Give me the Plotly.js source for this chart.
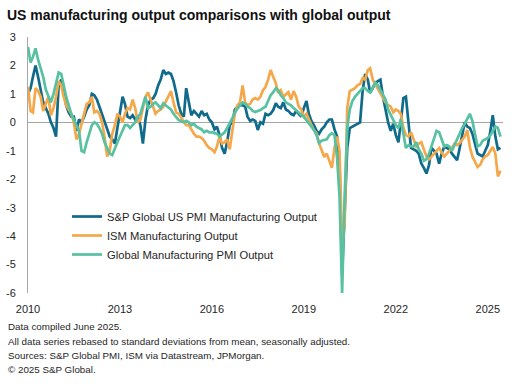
<!DOCTYPE html>
<html><head><meta charset="utf-8">
<script src="https://cdn.plot.ly/plotly-3.0.1.min.js"></script>
<style>html,body{margin:0;padding:0;background:#fff;}#chart{width:526px;height:392px;}</style>
</head><body><div id="chart"></div>
<script>
// Monthly series, Jan 2010 .. Jun 2025 (standard deviations from mean)
const startYear = 2010;
const spgUS = [
  1.0, 1.2, 1.6, 2.0, 1.6, 1.1, 0.7, 0.5, 0.3, 0.0, -0.2, -0.5,
  1.3, 1.5, 1.0, 0.6, 0.35, 0.2, 0.2, -0.3, 0.1, 0.0, 0.2, 0.45,
  0.6, 1.0, 0.95, 0.8, 0.55, 0.3, 0.05, -0.2, -0.5, -0.6, -0.75, -0.2,
  0.4, 0.9, 0.65, 0.2, 0.15, 0.25, 0.1, 0.2, -0.1, -0.75, 0.1, 0.6,
  0.8, 0.85, 1.0, 1.3, 1.5, 1.84, 1.7, 1.75, 1.7, 1.45, 1.05, 0.6,
  0.3, 0.2, 1.2, 0.7, 0.25, 0.4, 0.3, 0.2, 0.4, 0.25, 0.3, 0.1,
  0.0, -0.25, -0.15, -0.45, -0.9, -1.1, -0.7, -0.1, 0.0, 0.45, 0.55, 0.6,
  0.6, 0.55, 0.2, 0.05, 0.1, 0.05, -0.27, 0.0, -0.05, 0.3, 0.25, 0.3,
  0.43, 0.67, 0.55, 0.5, 0.7, 0.45, 0.4, 0.3, 0.25, 0.4, 0.3, 0.2,
  0.5, 0.75, 0.3, 0.05, -0.1, -0.3, -0.4, -0.25, -0.15, 0.0, 0.1, 0.1,
  -0.25, -0.5, -1.5, -5.3, -3.2, -0.9, -0.2, -0.15, -0.1, -0.05, 0.0, 1.1,
  1.7, 1.5, 1.05, 1.2, 1.38, 1.45, 1.5, 0.9, 0.4, 0.0, -0.3, -0.05,
  -0.45, -0.7, 0.0, 0.85, 0.9, 0.1, -0.9, -0.95, -1.0, -1.1, -1.45, -1.6,
  -1.8, -1.5, -0.9, -1.0, -1.1, -1.45, -1.1, -0.85, -0.9, -0.95, -1.1, -1.2,
  -1.33, -0.9, -0.5, 0.0, -0.15, -0.2, -0.4, -0.8, -1.1, -1.15, -1.2, -1.0,
  -0.8, -0.3, 0.25, -0.5, -0.95, -0.9
];
const ismOutput = [
  1.25, 0.4, 0.35, 1.2, 1.1, 0.9, 0.4, 0.65, 0.9, 0.25, 0.5, 0.9,
  1.45, 1.3, 0.9, 0.6, 0.45, 0.3, 0.0, -0.6, -0.4, 0.0, 0.3, 0.65,
  0.7, 0.9, 0.35, 0.4, 0.3, 0.0, -0.5, -1.2, -1.0, -0.4, -0.1, 0.3,
  0.2, 0.0, 0.3, 0.5, 0.45, 0.8, 0.5, 0.0, 0.1, 0.5, 0.9, 1.05,
  0.8, 0.55, 0.3, 0.4, 0.45, 0.55, 0.75, 0.9, 1.1, 0.7, 0.35, 0.3,
  0.15, 0.0, -0.1, -0.1, -0.25, -0.4, -0.5, -0.5, -0.55, -0.65, -0.8, -0.9,
  -0.95, -1.05, -0.85, -0.5, -0.75, -0.7, -0.6, -0.95, -0.3, 0.3, 0.6, 0.7,
  1.3, 0.7, 0.6, 0.65, 0.8, 0.85, 0.8, 0.9, 1.13, 1.24, 1.5, 1.84,
  1.6, 1.38, 1.03, 1.13, 0.9, 1.0, 1.06, 0.8, 1.1, 0.9, 0.55, 0.45,
  0.2, 0.3, 0.08, -0.1, -0.27, -0.38, -0.73, -1.0, -1.22, -1.1, -1.38, -1.6,
  -0.9, -0.5, -1.0, -4.3, -3.6, 0.5, 1.1, 1.15, 1.2, 1.3, 1.35, 1.55,
  1.5, 1.84, 1.9, 1.5, 1.35, 1.2, 1.0, 0.85, 0.7, 0.6, 0.55, 0.35,
  0.45, 0.4, 0.3, -0.2, -0.45, -0.5, -0.35, -0.6, -0.85, -0.75, -0.7, -0.95,
  -1.2, -1.3, -1.2, -1.1, -1.0, -0.9, -1.05, -1.2, -1.1, -1.0, -0.9, -0.75,
  -0.8, -0.73, -0.6, -0.5, -0.27, -0.87, -1.2, -1.4, -1.57, -1.5, -1.3, -1.2,
  -1.15, -1.0, -0.87, -1.1, -1.9, -1.7
];
const globalOutput = [
  2.65, 2.1, 2.3, 2.6, 2.2, 1.9, 1.6, 1.15, 0.9, 0.7, 1.0, 1.4,
  1.75, 1.7, 1.3, 0.9, 0.6, 0.3, 0.1, -0.1, -0.3, -1.0, -1.05, -0.7,
  -0.4, -0.1, 0.0, -0.05, -0.2, -0.4, -0.7, -0.9, -1.1, -1.15, -0.9, -0.7,
  -0.5, -0.3, -0.1, -0.1, -0.2, -0.1, 0.0, 0.2, 0.3, 0.6, 0.9, 0.5,
  0.55, 0.65, 0.7, 0.6, 0.5, 0.67, 0.6, 0.5, 0.45, 0.3, 0.2, 0.08,
  0.05, 0.0, 0.05, 0.0, -0.1, -0.05, -0.15, -0.2, -0.25, -0.35, -0.3, -0.35,
  -0.35, -0.38, -0.4, -0.5, -0.42, -0.35, -0.2, -0.05, 0.15, 0.35, 0.5, 0.6,
  0.7, 0.65, 0.55, 0.5, 0.4, 0.36, 0.4, 0.43, 0.5, 0.55, 0.75, 0.95,
  1.06, 1.2, 1.13, 0.95, 0.85, 0.7, 0.65, 0.6, 0.5, 0.43, 0.35, 0.25,
  0.2, 0.08, -0.05, -0.15, -0.27, -0.45, -0.73, -0.65, -0.62, -0.6, -0.45, -0.38,
  -0.45, -1.25, -2.6, -6.0, -2.6, -0.2, 0.45, 0.75, 0.9, 1.0, 1.13, 1.2,
  1.2, 1.1, 1.05, 1.25, 1.4, 1.3, 1.15, 1.0, 0.8, 0.45, 0.25, 0.05,
  -0.1, -0.2, 0.1, -0.4, -0.9, -0.8, -0.85, -0.85, -0.7, -0.95, -1.1, -1.35,
  -1.3, -1.1, -0.85, -0.5, -0.3, -0.35, -0.6, -0.85, -0.8, -0.85, -1.0, -0.8,
  -0.65, -0.45, -0.2, -0.05, 0.1, 0.3, 0.05, -0.4, -0.85, -0.8, -0.65, -0.6,
  -0.55, -0.45, -0.3, -0.15, -0.2, -0.5
];
const seriesNames = ['S&P Global US PMI Manufacturing Output', 'ISM Manufacturing Output', 'Global Manufacturing PMI Output'];
const tickYears = ['2010', '2013', '2016', '2019', '2022', '2025'];
const yTicks = [3, 2, 1, 0, -1, -2, -3, -4, -5, -6];
const titleText = 'US manufacturing output comparisons with global output';
const footnotes = [
  'Data compiled June 2025.',
  'All data series rebased to standard deviations from mean, seasonally adjusted.',
  'Sources: S&P Global PMI, ISM via Datastream, JPMorgan.',
  '\u00a9 2025 S&P Global.'
];

function monthDates(n) {
  const out = [];
  for (let i = 0; i < n; i++) {
    const y = startYear + Math.floor(i / 12);
    const m = (i % 12) + 1;
    out.push(y + '-' + String(m).padStart(2, '0') + '-01');
  }
  return out;
}

const FONT = 'Liberation Sans, Arial, sans-serif';
const colors = ['#0f6a8b', '#f5a84a', '#58c1a2'];
const allSeries = [spgUS, ismOutput, globalOutput];

const traces = allSeries.map((vals, i) => ({
  type: 'scatter', mode: 'lines',
  x: monthDates(vals.length), y: vals,
  name: seriesNames[i],
  line: {color: colors[i], width: 2.7},
  hoverinfo: 'skip'
}));

const W = 526, H = 392;
const L = 28, R = 23, T = 37, B = 99;
const pw = W - L - R, ph = H - T - B;
const px2x = x => (x - L) / pw;
const py2y = y => (H - B - y) / ph;

const footY = [326, 341, 355, 369];
const annotations = footnotes.map((t, i) => ({
  text: t, xref: 'paper', yref: 'paper',
  x: px2x(6), y: py2y(footY[i]), xanchor: 'left', yanchor: 'middle',
  showarrow: false, font: {family: FONT, size: 9.8, color: '#262626'}
}));

const layout = {
  width: W, height: H,
  margin: {l: L, r: R, t: T, b: B, pad: 0},
  paper_bgcolor: '#fff', plot_bgcolor: '#fff',
  font: {family: FONT, size: 11, color: '#262626'},
  title: {
    text: '<b>' + titleText + '</b>',
    xref: 'container', yref: 'container',
    x: 7 / W, xanchor: 'left', y: 1 - 15 / H, yanchor: 'middle',
    font: {family: FONT, size: 14, color: '#111'}
  },
  xaxis: {
    type: 'date',
    range: ['2010-01-01', '2025-07-01'],
    tickvals: tickYears.map(y => y + '-01-01'),
    ticktext: tickYears,
    showgrid: false, zeroline: false, showline: false,
    ticks: '', ticklabelstandoff: 8,
    tickfont: {family: FONT, size: 11, color: '#262626'}
  },
  yaxis: {
    range: [-6, 3],
    tickvals: yTicks,
    ticktext: yTicks.map(String),
    showgrid: false,
    zeroline: true, zerolinecolor: '#a6a6a6', zerolinewidth: 1,
    showline: true, linecolor: '#a6a6a6', linewidth: 1,
    ticks: '', ticklabelstandoff: 9,
    tickfont: {family: FONT, size: 11, color: '#262626'}
  },
  showlegend: true,
  legend: {
    x: px2x(67), y: py2y(202), xanchor: 'left', yanchor: 'top',
    bgcolor: 'rgba(0,0,0,0)', borderwidth: 0,
    font: {family: FONT, size: 11.2, color: '#262626'},
    tracegroupgap: 0
  },
  annotations: annotations
};

Plotly.newPlot('chart', traces, layout, {displayModeBar: false, staticPlot: true});
</script>
</body></html>
